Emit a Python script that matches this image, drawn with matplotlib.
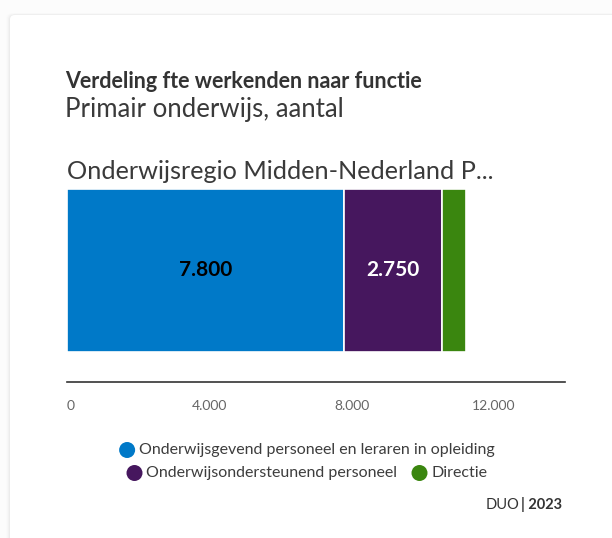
import matplotlib
matplotlib.use("Agg")
import matplotlib.pyplot as plt
from matplotlib.patches import FancyBboxPatch, Circle

# data
region = "Onderwijsregio Midden-Nederland P..."
categories = [
    "Onderwijsgevend personeel en leraren in opleiding",
    "Onderwijsondersteunend personeel",
    "Directie",
]
values = [7780, 2750, 680]
colors = ["#0079c8", "#46175e", "#3a860f"]
label_colors = ["#000000", "#ffffff", None]
xticks = [0, 4000, 8000, 12000]
xtick_labels = ["0", "4.000", "8.000", "12.000"]

W, H = 612, 538
plt.rcParams["font.family"] = ["Lato", "DejaVu Sans"]


def fx(px):
    return px / W


def fy(py):
    return 1 - py / H


fig = plt.figure(figsize=(W / 100, H / 100), dpi=100)
fig.patch.set_facecolor("#fcfcfc")
renderer = fig.canvas.get_renderer()

# card with soft shadow
for i, a in enumerate([0.008, 0.012, 0.018, 0.025]):
    fig.patches.append(FancyBboxPatch((fx(10 - 4 + i), fy(H + 10)), fx(W), fy(15 - 2 + i / 2) - fy(H + 10),
                                      boxstyle="round,pad=0,rounding_size=0.01",
                                      transform=fig.transFigure, fc="black", ec="none", alpha=a, zorder=0))
fig.patches.append(FancyBboxPatch((fx(10), fy(H + 10)), fx(W), fy(15) - fy(H + 10),
                                  boxstyle="round,pad=0,rounding_size=0.008",
                                  transform=fig.transFigure, fc="white", ec="none", zorder=1))

fig.text(fx(65), fy(81), "Verdeling fte werkenden naar functie", fontsize=15.5, fontweight="bold",
         color="#333333", va="center", ha="left", zorder=3)
fig.text(fx(65), fy(110), "Primair onderwijs, aantal", fontsize=18.5, color="#3a3a3a",
         va="center", ha="left", zorder=3)
fig.text(fx(67), fy(172), region, fontsize=18.2, color="#3a3a3a", va="center", ha="left", zorder=3)

ax = fig.add_axes([fx(67), fy(382), fx(565) - fx(67), fy(189) - fy(382)])
ax.set_zorder(2)
ax.set_facecolor("none")
left = 0
for v, c, lc in zip(values, colors, label_colors):
    ax.barh(0, v, left=left, height=0.8, color=c, edgecolor="white", linewidth=1.2)
    if lc is not None:
        ax.text(left + v / 2, 0, f"{round(v / 50) * 50:,}".replace(",", "."), ha="center", va="center",
                fontsize=15, fontweight="bold", color=lc)
    left += v

ax.set_xlim(0, 14000)
ax.set_ylim(-0.55, 0.4)
ax.set_yticks([])
for s in ["top", "right", "left"]:
    ax.spines[s].set_visible(False)
ax.spines["bottom"].set_color("#333333")
ax.spines["bottom"].set_linewidth(1.2)
ax.set_xticks(xticks)
ax.set_xticklabels(xtick_labels, fontsize=10, color="#666666")
ax.tick_params(axis="x", length=0, pad=13)
ax.get_xticklabels()[0].set_horizontalalignment("left")

# legend, two centred rows
legend_rows = [([0], 450), ([1, 2], 473)]
r = 8
for idxs, y0 in legend_rows:
    items = []
    for idx in idxs:
        t = fig.text(0, fy(y0), categories[idx], fontsize=11.5, color="#3d3d3d", va="center", ha="left", zorder=3)
        w = t.get_window_extent(renderer).width
        items.append((idx, t, w))
    total = sum(2 * r + 4 + w for _, _, w in items) + 14 * (len(items) - 1)
    x = 307 - total / 2
    for idx, t, w in items:
        fig.patches.append(Circle((x + r, H - y0), r, transform=None, fc=colors[idx], ec="none", zorder=3))
        t.set_x(fx(x + 2 * r + 4))
        x += 2 * r + 4 + w + 14

t = fig.text(fx(562), fy(505), "| 2023", fontsize=10.5, fontweight="bold", color="#333333", va="center",
             ha="right", zorder=3)
bw = t.get_window_extent(renderer).width
fig.text(fx(562 - bw - 1), fy(505), "DUO", fontsize=10.5, color="#333333", va="center", ha="right", zorder=3)

fig.savefig("out.png", dpi=100)
